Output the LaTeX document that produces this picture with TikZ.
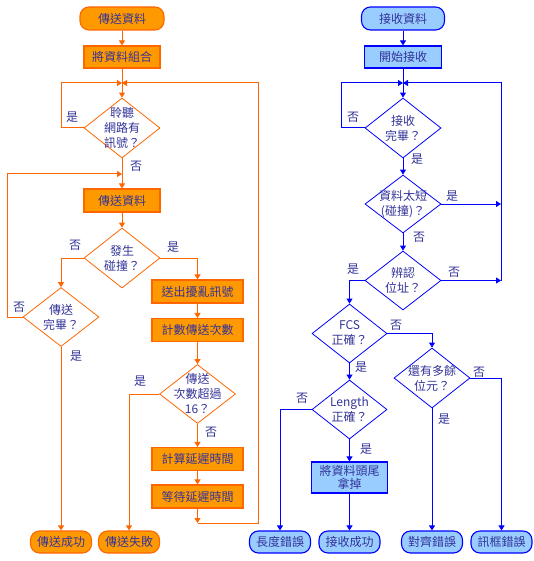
\documentclass[tikz,border=0pt]{standalone}
\usepackage{fontspec}
\setmainfont{Noto Sans CJK TC}
\usetikzlibrary{shapes.geometric,arrows.meta}
\definecolor{sendFill}{RGB}{255,153,0}
\definecolor{sendLine}{RGB}{255,102,0}
\definecolor{recvFill}{RGB}{153,204,255}
\definecolor{recvLine}{RGB}{0,0,255}
\definecolor{labelInk}{RGB}{51,51,153}

\begin{document}
\begin{tikzpicture}[x=1pt, y=-1pt, font=\fontsize{12}{14}\selectfont, text=labelInk,
    >={Triangle[length=5pt,width=6pt]},
    term/.style={rounded corners=9pt, line width=1.1pt, minimum width=61pt, minimum height=22pt, inner sep=1pt},
    procbox/.style={rectangle, line width=1.1pt, minimum width=76pt, minimum height=22pt, inner sep=1pt, align=center, font=\fontsize{12}{13.5}\selectfont},
    decision/.style={diamond, line width=0.8pt, inner sep=0pt, minimum width=76pt, minimum height=60pt},
    dlabel/.style={align=center, inner sep=0pt, font=\fontsize{12}{15}\selectfont},
    sendstyle/.style={draw=sendLine, fill=sendFill},
    recvstyle/.style={draw=recvLine, fill=recvFill},
    sflow/.style={draw=sendLine, line width=1pt, ->},
    rflow/.style={draw=recvLine, line width=1pt, ->},
    lbl/.style={inner sep=0pt}]
  \useasboundingbox (0,0) rectangle (534,561);

  % sending side
  \node[term, sendstyle, minimum width=84pt, minimum height=23pt] (sstart) at (122,18.5) {傳送資料};
  \node[procbox, sendstyle] (combine) at (122,57) {將資料組合};
  \node[decision, draw=sendLine, label={[dlabel]center:{聆聽\\網路有\\訊號？}}] (listen) at (122,128) {};
  \node[procbox, sendstyle, minimum height=23pt] (send) at (122,200.5) {傳送資料};
  \node[decision, draw=sendLine, label={[dlabel]center:{發生\\碰撞？}}] (collide) at (122,258) {};
  \node[decision, draw=sendLine, minimum height=59pt, label={[dlabel]center:{傳送\\完畢？}}] (done) at (61,317) {};
  \node[procbox, sendstyle, minimum width=91pt, minimum height=23pt] (jam) at (197.5,291.5) {送出擾亂訊號};
  \node[procbox, sendstyle, minimum width=91pt, minimum height=23pt] (count) at (197.5,330) {計數傳送次數};
  \node[decision, draw=sendLine, minimum height=59pt, label={[dlabel]center:{傳送\\次數超過\\16？}}] (over) at (197.5,394) {};
  \node[procbox, sendstyle, minimum width=91pt, minimum height=23pt] (calc) at (197.5,459) {計算延遲時間};
  \node[procbox, sendstyle, minimum width=91pt, minimum height=23pt] (wait) at (197.5,496.5) {等待延遲時間};
  \node[term, sendstyle] (success) at (61,542) {傳送成功};
  \node[term, sendstyle] (fail) at (129,542) {傳送失敗};

  \coordinate (jlisten) at (122,83);
  \coordinate (jsend) at (122,174);
  \coordinate (jwait) at (197.5,523);
  \coordinate (jloop) at (258,523);

  \draw[sflow] (sstart) -- (combine);
  \draw[sflow] (combine) -- (listen);
  \draw[sflow] (listen.west) -- ++(-22,0) |- (jlisten);
  \draw[sflow] (listen) -- (send);
  \draw[sflow] (send) -- (collide);
  \draw[sflow] (collide.west) -| (done.north);
  \draw[sflow] (collide.east) -| (jam.north);
  \draw[sflow] (done.west) -- ++(-15,0) |- (jsend);
  \draw[sflow] (done) -- (success);
  \draw[sflow] (jam) -- (count);
  \draw[sflow] (count) -- (over);
  \draw[sflow] (over.west) -| (fail.north);
  \draw[sflow] (over) -- (calc);
  \draw[sflow] (calc) -- (wait);
  \draw[sflow] (wait) -- (jwait);
  \draw[sflow] (jwait) -- (jloop) |- (jlisten);

  \node[lbl] (l1) at (72,117) {是};
  \node[lbl] (l2) at (136,166) {否};
  \node[lbl] (l3) at (75,245) {否};
  \node[lbl] (l4) at (173,247) {是};
  \node[lbl] (l5) at (19,307) {否};
  \node[lbl] (l6) at (76,356) {是};
  \node[lbl] (l7) at (140,381) {是};
  \node[lbl] (l8) at (211,432) {否};

  % receiving side
  \node[term, recvstyle, minimum width=83pt, minimum height=23pt] (rstart) at (403,18.5) {接收資料};
  \node[procbox, recvstyle, minimum width=77pt] (begin) at (403,57) {開始接收};
  \node[decision, draw=recvLine, label={[dlabel]center:{接收\\完畢？}}] (rdone) at (403,128) {};
  \node[decision, draw=recvLine, minimum height=58pt, label={[dlabel]center:{資料太短\\(碰撞)？}}] (short) at (403,204) {};
  \node[decision, draw=recvLine, minimum height=59pt, label={[dlabel]center:{辨認\\位址？}}] (addr) at (403,280.5) {};
  \node[decision, draw=recvLine, minimum width=75pt, minimum height=59pt, label={[dlabel]center:{FCS\\正確？}}] (fcs) at (349.5,333.5) {};
  \node[decision, draw=recvLine, label={[dlabel]center:{還有多餘\\位元？}}] (extra) at (432,378) {};
  \node[decision, draw=recvLine, minimum width=75pt, minimum height=59pt, label={[dlabel]center:{Length\\正確？}}] (len) at (349.5,409.5) {};
  \node[procbox, recvstyle, minimum height=31pt] (strip) at (349.5,477.5) {將資料頭尾\\拿掉};
  \node[term, recvstyle] (lenerr) at (280,542) {長度錯誤};
  \node[term, recvstyle] (ok) at (349.5,542) {接收成功};
  \node[term, recvstyle] (alignerr) at (432,542) {對齊錯誤};
  \node[term, recvstyle] (frameerr) at (501.5,542) {訊框錯誤};

  \coordinate (rjoin) at (403,83);
  \coordinate (rside1) at (501,204);
  \coordinate (rside2) at (501,280.5);

  \draw[rflow] (rstart) -- (begin);
  \draw[rflow] (begin) -- (rdone);
  \draw[rflow] (rdone.west) -- ++(-23,0) |- (rjoin);
  \draw[rflow] (rdone) -- (short);
  \draw[rflow] (short.east) -- (rside1);
  \draw[rflow] (short) -- (addr);
  \draw[rflow] (addr.east) -- (rside2);
  \draw[rflow] (rside2) |- (rjoin);
  \draw[rflow] (addr.west) -| (fcs.north);
  \draw[rflow] (fcs.east) -| (extra.north);
  \draw[rflow] (fcs) -- (len);
  \draw[rflow] (extra.east) -| (frameerr.north);
  \draw[rflow] (extra) -- (alignerr);
  \draw[rflow] (len.west) -| (lenerr.north);
  \draw[rflow] (len) -- (strip);
  \draw[rflow] (strip) -- (ok);

  \node[lbl] (r1) at (353,117) {否};
  \node[lbl] (r2) at (417,159) {是};
  \node[lbl] (r3) at (452,196) {是};
  \node[lbl] (r4) at (419,237) {否};
  \node[lbl] (r5) at (454,272) {否};
  \node[lbl] (r6) at (353,269) {是};
  \node[lbl] (r7) at (396,325) {否};
  \node[lbl] (r8) at (361,367) {是};
  \node[lbl] (r9) at (479,372) {否};
  \node[lbl] (r10) at (444,419) {是};
  \node[lbl] (r11) at (302,398) {否};
  \node[lbl] (r12) at (366,449) {是};
\end{tikzpicture}
\end{document}
